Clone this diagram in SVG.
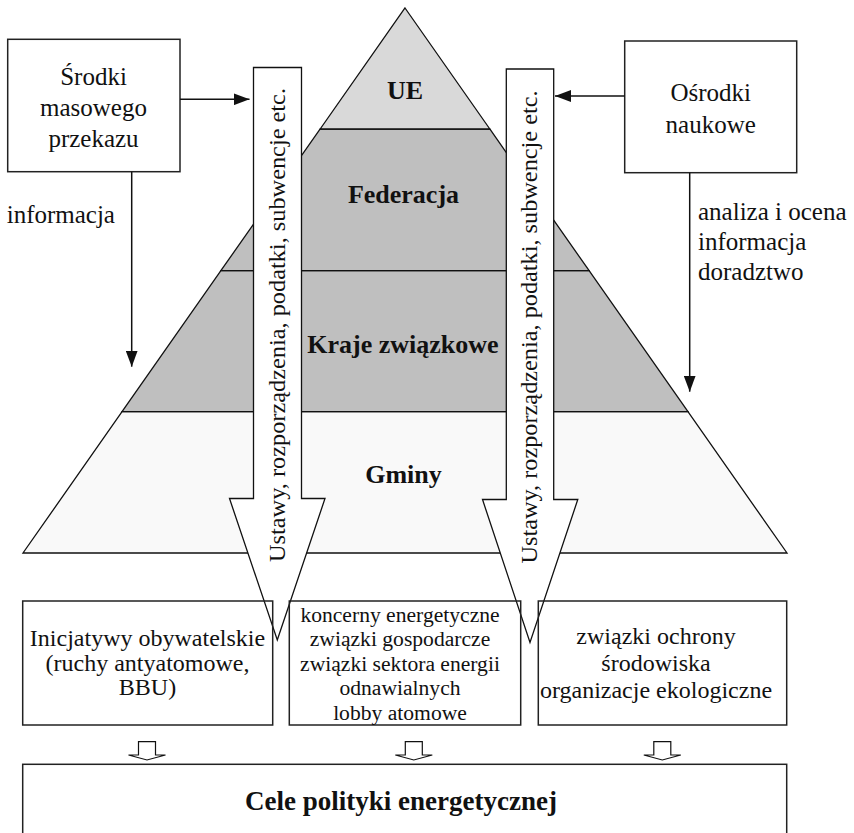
<svg xmlns="http://www.w3.org/2000/svg" width="854" height="833" viewBox="0 0 854 833" font-family="'Liberation Serif', 'Times New Roman', serif">
<defs>
<style>
text{font-family:"Liberation Serif","Times New Roman",serif;fill:#111;}
.t25{font-size:25px;}
.t24{font-size:24px;}
.t21{font-size:21.6px;}
.b26{font-size:26px;font-weight:bold;}
.b27{font-size:27px;font-weight:bold;}
.c{text-anchor:middle;}
.band{stroke:#111;stroke-width:1.3;stroke-linejoin:miter;}
.box{fill:none;stroke:#222;stroke-width:1.5;}
.big{fill:#fff;stroke:#111;stroke-width:1.3;stroke-linejoin:miter;}
.line{fill:none;stroke:#111;stroke-width:1.5;}
.small{fill:#fff;stroke:#111;stroke-width:1.2;}
</style>
<marker id="ah" markerUnits="userSpaceOnUse" markerWidth="16" markerHeight="12" refX="16" refY="6" orient="auto">
<path d="M0,0 L16,6 L0,12 Z" fill="#111"/>
</marker>
</defs>
<rect x="0" y="0" width="854" height="833" fill="#fff"/>

<g id="level-gminy">
<polygon class="band" points="122.04,411.7 687.96,411.7 787,553 23,553" fill="#f9f9f9"/>
<text class="b26 c" x="403.5" y="483">Gminy</text>
</g>
<g id="level-kraje">
<polygon class="band" points="220.87,270.7 589.13,270.7 687.96,411.7 122.04,411.7" fill="#bfbfbf"/>
<text class="b26 c" x="403" y="353">Kraje związkowe</text>
</g>
<g id="level-federacja">
<polygon class="band" points="320.19,129 489.81,129 589.13,270.7 220.87,270.7" fill="#bfbfbf"/>
<text class="b26 c" x="403.5" y="202.5">Federacja</text>
</g>
<g id="level-ue">
<polygon class="band" points="405,8 489.81,129 320.19,129" fill="#d9d9d9"/>
<text class="b26 c" x="405" y="99">UE</text>
</g>

<g id="arrow-left">
<polygon class="big" points="253.5,67.5 301.5,67.5 301.5,498.5 325,498.5 277.3,640 229.5,498.5 253.5,498.5"/>
<text class="t24 c" transform="translate(285,325) rotate(-90)" textLength="474" lengthAdjust="spacingAndGlyphs">Ustawy, rozporządzenia, podatki, subwencje etc.</text>
</g>
<g id="arrow-right">
<polygon class="big" points="506.3,69 553.7,69 553.7,499.5 577.8,499.5 530,642.5 482.5,499.5 506.3,499.5"/>
<text class="t24 c" transform="translate(536.5,327) rotate(-90)" textLength="473" lengthAdjust="spacingAndGlyphs">Ustawy, rozporządzenia, podatki, subwencje etc.</text>
</g>

<g id="box-media">
<rect class="box" x="7.7" y="39.3" width="172.3" height="132.4" fill="#fff"/>
<text class="t25 c" x="93.5" y="85">Środki</text>
<text class="t25 c" x="93.5" y="116">masowego</text>
<text class="t25 c" x="93.5" y="147">przekazu</text>
</g>
<g id="box-science">
<rect class="box" x="624.7" y="41" width="172" height="131.7" fill="#fff"/>
<text class="t25 c" x="710.7" y="101">Ośrodki</text>
<text class="t25 c" x="710.7" y="133">naukowe</text>
</g>

<g id="box-citizens">
<rect class="box" x="22.7" y="601" width="250" height="124"/>
<text class="t24 c" x="147.5" y="646">Inicjatywy obywatelskie</text>
<text class="t24 c" x="147.5" y="671">(ruchy antyatomowe,</text>
<text class="t24 c" x="147.5" y="695">BBU)</text>
</g>
<g id="box-industry">
<rect class="box" x="289.3" y="601" width="231.4" height="124"/>
<text class="t21 c" x="400" y="621.5">koncerny energetyczne</text>
<text class="t21 c" x="400" y="645.5">związki gospodarcze</text>
<text class="t21 c" x="400" y="670.5">związki sektora energii</text>
<text class="t21 c" x="400" y="695">odnawialnych</text>
<text class="t21 c" x="400" y="719.5">lobby atomowe</text>
</g>
<g id="box-ecology">
<rect class="box" x="538.3" y="601" width="248.4" height="124"/>
<text class="t24 c" x="656" y="643.5">związki ochrony</text>
<text class="t24 c" x="656" y="671">środowiska</text>
<text class="t24 c" x="656" y="698">organizacje ekologiczne</text>
</g>

<g id="box-goals">
<rect class="box" x="22.7" y="764.3" width="764" height="90"/>
<text class="b27 c" x="401" y="810">Cele polityki energetycznej</text>
</g>

<g id="labels">
<text class="t25" x="6.7" y="223">informacja</text>
<text class="t25" x="698" y="220">analiza i ocena</text>
<text class="t25" x="698" y="250">informacja</text>
<text class="t25" x="698" y="280">doradztwo</text>
</g>

<g id="connectors">
<line class="line" x1="180" y1="99.3" x2="249.5" y2="99.3" marker-end="url(#ah)"/>
<line class="line" x1="131.7" y1="171.7" x2="131.7" y2="366.7" marker-end="url(#ah)"/>
<line class="line" x1="624.7" y1="96" x2="555" y2="96" marker-end="url(#ah)"/>
<line class="line" x1="689.7" y1="172.7" x2="689.7" y2="391.7" marker-end="url(#ah)"/>
<polygon class="small" points="138.5,741.7 155.5,741.7 155.5,755 165.5,755 147,760 128.5,755 138.5,755"/>
<polygon class="small" points="405.3,741.7 422.3,741.7 422.3,755 432.3,755 413.8,760 395.3,755 405.3,755"/>
<polygon class="small" points="653.8,741.7 670.8,741.7 670.8,755 680.8,755 662.3,760 643.8,755 653.8,755"/>
</g>
</svg>
